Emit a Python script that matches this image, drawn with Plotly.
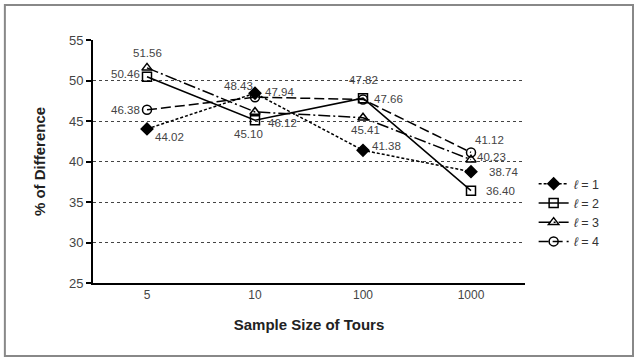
import plotly.graph_objects as go

categories = ["5", "10", "100", "1000"]
l1 = [44.02, 48.43, 41.38, 38.74]
l2 = [50.46, 45.10, 47.82, 36.40]
l3 = [51.56, 46.12, 45.41, 40.23]
l4 = [46.38, 47.94, 47.66, 41.12]
names = ["<i>ℓ</i> = 1", "<i>ℓ</i> = 2", "<i>ℓ</i> = 3", "<i>ℓ</i> = 4"]

# label offsets (pixels) for each series' value labels
off1 = [(22, 8), (-17, -7), (23, -4), (32, 0)]
off2 = [(-22, -3), (-7, 14), (0, -18), (29, 0)]
off3 = [(0, -15), (27, 11), (2, 12), (20, -3)]
off4 = [(-22, 0), (24, -5), (25, 0), (18, -12)]

series = [
    (l1, off1, "diamond", "3px,2px"),
    (l2, off2, "square-open", "solid"),
    (l3, off3, "triangle-up-open", "12px,3px,2px,3px"),
    (l4, off4, "circle-open", "10px,4px"),
]

fig = go.Figure()
annotations = []
for (vals, offs, sym, dash), name in zip(series, names):
    fig.add_trace(go.Scatter(
        x=categories, y=vals, name=name,
        mode="lines+markers",
        line=dict(color="black", width=1.5, dash=dash),
        marker=dict(symbol=sym, size=9, color="black",
                    line=dict(color="black", width=1.5)),
        cliponaxis=False,
    ))
    for i, (v, (dx, dy)) in enumerate(zip(vals, offs)):
        annotations.append(dict(
            x=i, y=v, xref="x", yref="y", text=f"{v:.2f}", showarrow=False,
            xshift=dx, yshift=-dy,
            font=dict(family="Liberation Sans, Arial", size=11.5, color="#444"),
        ))

fig.update_layout(
    width=636, height=358,
    margin=dict(l=93, r=111, t=40, b=75, autoexpand=False),
    paper_bgcolor="white", plot_bgcolor="white",
    font=dict(family="Liberation Sans, Arial", color="#333"),
    showlegend=True,
    legend=dict(x=1.02, xanchor="left", y=0.29, yanchor="middle",
                font=dict(size=12.5, color="#333"), tracegroupgap=0,
                itemwidth=30),
    annotations=annotations,
    shapes=[dict(type="rect", xref="paper", yref="paper",
                 x0=-0.204, x1=1.25, y0=-0.30, y1=1.144,
                 line=dict(color="#888", width=2))],
)
fig.update_xaxes(
    type="category", categoryorder="array", categoryarray=categories,
    range=[-0.5, 3.5],
    showline=True, linecolor="black", linewidth=2,
    showgrid=False, ticks="", tickfont=dict(size=12, color="#444"),
    automargin=False,
    title=dict(text="<b>Sample Size of Tours</b>", font=dict(size=15, color="#222"), standoff=18),
)
fig.update_yaxes(
    range=[25, 55], dtick=5, showline=True, linecolor="black", linewidth=2,
    showgrid=True, gridcolor="#444", griddash="dot", gridwidth=1,
    ticks="outside", ticklen=5, tickcolor="black", tickwidth=1.5,
    tickfont=dict(size=13, color="#444"), zeroline=False, automargin=False,
    title=dict(text="<b>% of Difference</b>", font=dict(size=15, color="#222"), standoff=20),
)

fig.write_html("out.html", config={"displayModeBar": False},
               post_script="document.body.style.margin='0';")
